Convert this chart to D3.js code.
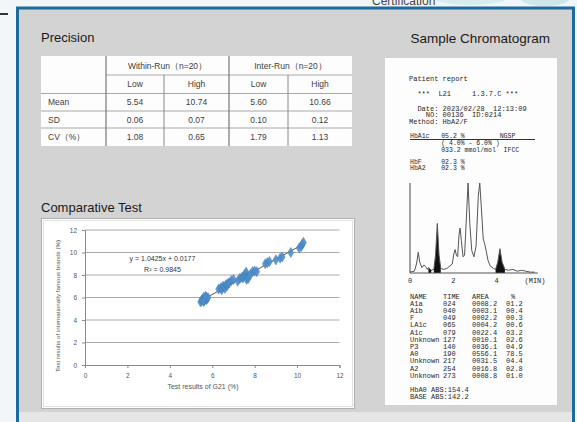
<!DOCTYPE html>
<html><head><meta charset="utf-8">
<script src="https://cdn.jsdelivr.net/npm/d3@7"></script>
<style>body{margin:0;background:#f2f6f9;} svg{display:block}</style>
</head><body><svg id="c" width="577" height="422"></svg>
<script>
// ---------- data ----------
const precisionGroups = ["Within-Run（n=20）", "Inter-Run（n=20）"];
const precisionColumns = ["Low", "High", "Low", "High"];
const precisionRows = ["Mean", "SD", "CV（%）"];
const precisionValues = [
  ["5.54", "10.74", "5.60", "10.66"],
  ["0.06", "0.07", "0.10", "0.12"],
  ["1.08", "0.65", "1.79", "1.13"]
];

const xTicks = [0, 2, 4, 6, 8, 10, 12];
const yTicks = [0, 2, 4, 6, 8, 10, 12];
const g21 = [5.45,5.50,5.55,5.60,5.62,5.65,5.70,5.72,5.75,5.80,5.58,5.68,
             6.30,6.40,6.45,6.50,6.55,6.60,6.65,6.70,6.75,6.80,6.90,7.00,
             7.20,7.30,7.40,7.45,7.50,7.55,7.60,7.62,7.65,7.70,7.80,7.90,8.00,8.10,
             8.50,8.60,8.70,9.00,9.20,9.30,9.70,10.10,10.20,10.25,10.30];
const brand = [5.60,5.75,5.85,6.00,5.70,5.95,6.05,5.80,5.90,6.00,5.65,6.10,
               6.75,6.85,6.70,7.00,6.95,6.80,7.15,7.05,7.25,7.30,7.50,7.60,
               7.45,7.70,7.80,7.75,7.95,8.05,8.25,7.60,7.85,7.70,8.05,8.30,8.35,8.30,
               9.00,9.10,9.20,9.35,9.50,9.60,10.00,10.40,10.55,10.75,10.90];
const trendSlope = 1.0425, trendIntercept = 0.0177;
const trendX = [5.45, 10.3];
const equationText = "y = 1.0425x + 0.0177";
const r2Text = "R² = 0.9845";

const traceTime = [0.00,0.20,0.30,0.38,0.45,0.55,0.65,0.72,0.80,0.85,0.90,0.98,1.10,1.18,1.26,1.34,1.42,1.55,1.70,1.85,1.95,2.03,2.08,2.14,2.20,2.26,2.31,2.37,2.45,2.52,2.60,2.68,2.76,2.85,2.95,3.05,3.15,3.22,3.30,3.38,3.45,3.52,3.60,3.70,3.85,3.95,4.05,4.15,4.25,4.38,4.55,4.75,4.95,5.15,5.35,5.55,5.75];
const traceSignal = [1,2,10,23,12,6,9,7,4,6,5,3,4,20,55,20,5,4,5,8,10,22,26,20,18,42,50,36,18,20,60,100,55,25,18,30,85,100,70,38,32,24,14,8,5,4,12,27,12,4,3,4,2,3,2,1,1];
const shadedPeaks = [[0.85, 0.98], [1.10, 1.42], [3.95, 4.38]];
const chromTicks = [0, 2, 4];

const headerLines = [
  "Patient report",
  "  ***  L21     1.3.7.C ***",
  "  Date: 2023/02/28  12:13:09",
  "    NO: 00136  ID:0214",
  "Method: HbA2/F"
];
const resultLines = [
  "HbA1c   05.2 %         NGSP",
  "        ( 4.0% - 6.0% )",
  "        033.2 mmol/mol  IFCC",
  "HbF     02.3 %",
  "HbA2    02.3 %"
];
const peakHeader = ["NAME", "TIME", "AREA", "%"];
const peakNames = ["A1a","A1b","F","LA1c","A1c","Unknown","P3","A0","Unknown","A2","Unknown"];
const peakTimes = ["024","040","049","065","079","127","140","190","217","254","273"];
const peakAreas = ["0008.2","0003.1","0002.2","0004.2","0022.4","0010.1","0036.1","0556.1","0031.5","0016.8","0008.8"];
const peakPcts = ["01.2","00.4","00.3","00.6","03.2","02.6","04.9","78.5","04.4","02.8","01.0"];
const footerLines = ["HbA0 ABS:154.4", "BASE ABS:142.2"];

// ---------- drawing ----------
const svg = d3.select("#c");
const sans = "'Liberation Sans', Arial, sans-serif";
const mono = "'Liberation Mono', 'DejaVu Sans Mono', monospace";

svg.append("rect").attr("width", 577).attr("height", 422).attr("fill", "#f2f6f9");
svg.append("ellipse").attr("cx", 470).attr("cy", -4).attr("rx", 40).attr("ry", 9).attr("fill", "#d6ecef");
svg.append("ellipse").attr("cx", 545).attr("cy", -2).attr("rx", 25).attr("ry", 8).attr("fill", "#cfe6ea");
svg.append("text").attr("x", 372).attr("y", 4.5).attr("font-family", sans).attr("font-size", 12)
  .attr("fill", "#444").text("Certification");
svg.append("rect").attr("x", 0).attr("y", 13).attr("width", 8).attr("height", 2).attr("fill", "#333");

// panel
svg.append("rect").attr("x", 17.5).attr("y", 8).attr("width", 556).attr("height", 430)
  .attr("fill", "#d3d3d3").attr("stroke", "#1d6a9c").attr("stroke-width", 3);
svg.append("rect").attr("x", 19).attr("y", 412).attr("width", 553).attr("height", 12).attr("fill", "#e6e6e6");

// titles
svg.append("text").attr("x", 41).attr("y", 42).attr("font-family", sans).attr("font-size", 13)
  .attr("fill", "#1a1a1a").text("Precision");
svg.append("text").attr("x", 550).attr("y", 43).attr("text-anchor", "end").attr("font-family", sans)
  .attr("font-size", 13.5).attr("fill", "#1a1a1a").text("Sample Chromatogram");
svg.append("text").attr("x", 41).attr("y", 212).attr("font-family", sans).attr("font-size", 13)
  .attr("fill", "#1a1a1a").text("Comparative Test");

// ---------- precision table ----------
const tbl = svg.append("g");
const colX = [41, 106, 164, 229, 288, 352];
const rowY = [56, 75, 93.5, 111, 128, 146];
tbl.append("rect").attr("x", colX[0]).attr("y", rowY[0]).attr("width", colX[5] - colX[0])
  .attr("height", rowY[5] - rowY[0]).attr("fill", "#fdfdfd");
const lineC = "#a8a8a8";
tbl.append("line").attr("x1", colX[1]).attr("x2", colX[5]).attr("y1", rowY[1]).attr("y2", rowY[1]).attr("stroke", lineC);
[2, 3, 4].forEach(i => tbl.append("line").attr("x1", colX[0]).attr("x2", colX[5])
  .attr("y1", rowY[i]).attr("y2", rowY[i]).attr("stroke", lineC));
[1, 3].forEach(i => tbl.append("line").attr("x1", colX[i]).attr("x2", colX[i])
  .attr("y1", rowY[0]).attr("y2", rowY[5]).attr("stroke", "#777").attr("stroke-width", 1.2));
[2, 4].forEach(i => tbl.append("line").attr("x1", colX[i]).attr("x2", colX[i])
  .attr("y1", rowY[1]).attr("y2", rowY[5]).attr("stroke", "#888"));
const tf = (sel) => sel.attr("font-family", sans).attr("font-size", 8.5).attr("fill", "#404040");
precisionGroups.forEach((g, i) => {
  tf(tbl.append("text").attr("x", (colX[1 + 2 * i] + colX[3 + 2 * i]) / 2).attr("y", (rowY[0] + rowY[1]) / 2 + 3)
    .attr("text-anchor", "middle").text(g));
});
precisionColumns.forEach((c, i) => {
  tf(tbl.append("text").attr("x", (colX[1 + i] + colX[2 + i]) / 2).attr("y", (rowY[1] + rowY[2]) / 2 + 3)
    .attr("text-anchor", "middle").text(c));
});
precisionRows.forEach((r, j) => {
  tf(tbl.append("text").attr("x", 48).attr("y", (rowY[2 + j] + rowY[3 + j]) / 2 + 3).text(r));
  precisionValues[j].forEach((v, i) => {
    tf(tbl.append("text").attr("x", (colX[1 + i] + colX[2 + i]) / 2).attr("y", (rowY[2 + j] + rowY[3 + j]) / 2 + 3)
      .attr("text-anchor", "middle").text(v));
  });
});

// ---------- comparative test scatter ----------
const sc = svg.append("g");
sc.append("rect").attr("x", 41.5).attr("y", 218.5).attr("width", 313).attr("height", 190)
  .attr("fill", "#fff").attr("stroke", "#b0b0b0");
sc.append("rect").attr("x", 43.5).attr("y", 220.5).attr("width", 309).attr("height", 186)
  .attr("fill", "none").attr("stroke", "#e2e2e2");
const x = d3.scaleLinear().domain([0, 12]).range([85, 339.5]);
const y = d3.scaleLinear().domain([0, 12]).range([365, 230]);
sc.append("g").selectAll("line").data(yTicks.filter(d => d > 0)).join("line")
  .attr("x1", x(0)).attr("x2", x(12)).attr("y1", d => y(d)).attr("y2", d => y(d))
  .attr("stroke", "#a9a9a9").attr("stroke-width", 1);
const xAxis = sc.append("g").attr("transform", `translate(0,${y(0)})`)
  .call(d3.axisBottom(x).tickValues(xTicks).tickSize(3).tickPadding(5));
const yAxis = sc.append("g").attr("transform", `translate(${x(0)},0)`)
  .call(d3.axisLeft(y).tickValues(yTicks).tickSize(3).tickPadding(5));
[xAxis, yAxis].forEach(a => {
  a.select(".domain").attr("stroke", "#8a8a8a");
  a.selectAll(".tick line").attr("stroke", "#8a8a8a");
  a.selectAll("text").attr("font-family", sans).attr("font-size", 6.5).attr("fill", "#555");
});
sc.append("text").attr("x", 203).attr("y", 389).attr("text-anchor", "middle").attr("font-family", sans)
  .attr("font-size", 7).attr("fill", "#555").text("Test results of G21 (%)");
sc.append("text").attr("transform", "translate(60,306) rotate(-90)").attr("text-anchor", "middle")
  .attr("font-family", sans).attr("font-size", 6.2).attr("fill", "#555")
  .text("Test results of internationally famous brands (%)");
sc.append("line").attr("x1", x(trendX[0])).attr("y1", y(trendSlope * trendX[0] + trendIntercept))
  .attr("x2", x(trendX[1])).attr("y2", y(trendSlope * trendX[1] + trendIntercept))
  .attr("stroke", "#555").attr("stroke-width", 1);
const diamond = d3.symbol().type(d3.symbolDiamond).size(30);
sc.append("g").selectAll("path").data(g21.map((v, i) => [v, brand[i]])).join("path")
  .attr("d", diamond).attr("transform", d => `translate(${x(d[0])},${y(d[1])})`)
  .attr("fill", "#4f8fcc").attr("stroke", "#3f78b2").attr("stroke-width", 0.5).attr("opacity", 0.9);
sc.append("text").attr("x", 162.5).attr("y", 261).attr("text-anchor", "middle").attr("font-family", sans)
  .attr("font-size", 7).attr("fill", "#333").text(equationText);
sc.append("text").attr("x", 162.5).attr("y", 271.5).attr("text-anchor", "middle").attr("font-family", sans)
  .attr("font-size", 7).attr("fill", "#333").text(r2Text);

// ---------- chromatogram printout ----------
const ch = svg.append("g");
ch.append("rect").attr("x", 385).attr("y", 58).attr("width", 172).attr("height", 347).attr("fill", "#fdfdfd");
const mt = (sel, fs) => sel.attr("font-family", mono).attr("font-size", fs || 7)
  .attr("fill", "#262626").attr("xml:space", "preserve").style("white-space", "pre");
const headerY = [78, 93, 108, 114.5, 121];
headerLines.forEach((t, i) => mt(ch.append("text").attr("x", 409).attr("y", headerY[i] + 2.5).text(t)));
const resY = [136, 143, 149.5, 162, 168];
resultLines.forEach((t, i) => mt(ch.append("text").attr("x", 410).attr("y", resY[i] + 2.3).text(t), 6.5));
ch.append("line").attr("x1", 410).attr("x2", 535).attr("y1", 139.5).attr("y2", 139.5).attr("stroke", "#333").attr("stroke-width", 1);

const cx = d3.scaleLinear().domain([0, 6]).range([410, 540]);
const cy = d3.scaleLinear().domain([0, 100]).range([273, 183]);
const trace = traceTime.map((t, i) => [t, traceSignal[i]]);
shadedPeaks.forEach(([a, b]) => {
  const pts = trace.filter(d => d[0] >= a && d[0] <= b);
  ch.append("path").datum(pts)
    .attr("d", d3.area().x(d => cx(d[0])).y0(cy(0)).y1(d => cy(d[1])))
    .attr("fill", "#111");
});
ch.append("path").datum(trace)
  .attr("d", d3.line().x(d => cx(d[0])).y(d => cy(d[1])))
  .attr("fill", "none").attr("stroke", "#555").attr("stroke-width", 1);
ch.append("line").attr("x1", cx(0)).attr("x2", cx(0)).attr("y1", cy(0)).attr("y2", cy(100))
  .attr("stroke", "#444").attr("stroke-width", 1);
ch.append("line").attr("x1", cx(0)).attr("x2", cx(5.9)).attr("y1", cy(0)).attr("y2", cy(0))
  .attr("stroke", "#555").attr("stroke-width", 1);
chromTicks.forEach(t => mt(ch.append("text").attr("x", cx(t)).attr("y", 283).attr("text-anchor", "middle").text(String(t))));
mt(ch.append("text").attr("x", 535).attr("y", 283).attr("text-anchor", "middle").text("(MIN)"));

const colsX = [410, 443, 472, 506];
const tableY0 = 296, rowH = 7.2;
peakHeader.forEach((h, i) => mt(ch.append("text").attr("x", colsX[i] + (i === 3 ? 5 : 0)).attr("y", tableY0 + 2.5).text(h)));
peakNames.forEach((n, j) => {
  const yy = tableY0 + rowH * (j + 1) + 2.5;
  mt(ch.append("text").attr("x", colsX[0]).attr("y", yy).text(n));
  mt(ch.append("text").attr("x", colsX[1]).attr("y", yy).text(peakTimes[j]));
  mt(ch.append("text").attr("x", colsX[2]).attr("y", yy).text(peakAreas[j]));
  mt(ch.append("text").attr("x", colsX[3]).attr("y", yy).text(peakPcts[j]));
});
footerLines.forEach((t, i) => mt(ch.append("text").attr("x", 410).attr("y", 389 + 7 * i + 2.5).text(t)));
</script>
</body></html>
